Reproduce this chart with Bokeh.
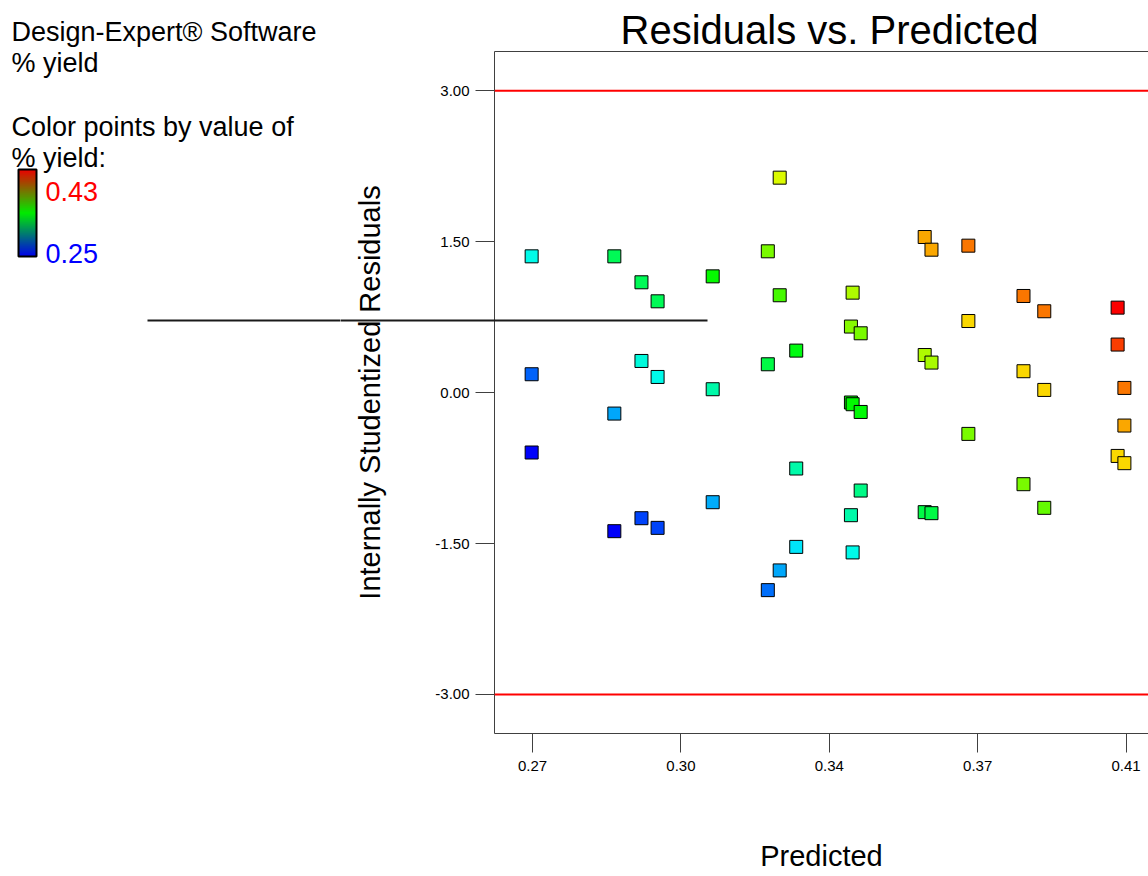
import numpy as np
from bokeh.plotting import figure
from bokeh.layouts import row
from bokeh.models import (ColumnDataSource, LinearColorMapper, ColorBar, FixedTicker,
                          Span, LinearAxis, Range1d)
from bokeh.core.properties import value
from bokeh.embed import file_html
from bokeh.resources import INLINE

# ---- data ---------------------------------------------------------------
# predicted % yield of each run (three replicates per run)
predicted = [
    0.2698, 0.2698, 0.2698,
    0.2893, 0.2893, 0.2893,
    0.2957, 0.2957, 0.2957,
    0.2995, 0.2995, 0.2995,
    0.3125, 0.3125, 0.3125,
    0.3255, 0.3255, 0.3255,
    0.3283, 0.3283, 0.3283,
    0.3322, 0.3322, 0.3322,
    0.3451, 0.3451, 0.3451,
    0.3455, 0.3455, 0.3455,
    0.3474, 0.3474, 0.3474,
    0.3625, 0.3625, 0.3625,
    0.3641, 0.3641, 0.3641,
    0.3728, 0.3728, 0.3728,
    0.3858, 0.3858, 0.3858,
    0.3907, 0.3907, 0.3907,
    0.4080, 0.4080, 0.4080,
    0.4096, 0.4096, 0.4096,
]
# internally studentized residuals
residuals = [
    1.355, 0.183, -0.595,
    1.355, -0.208, -1.377,
    1.097, 0.315, -1.248,
    0.908, 0.156, -1.344,
    1.156, 0.034, -1.089,
    1.405, 0.282, -1.963,
    2.137, 0.968, -1.767,
    0.418, -0.754, -1.533,
    0.657, -0.098, -1.218,
    0.994, -0.115, -1.588,
    0.590, -0.192, -0.973,
    1.547, 0.374, -1.188,
    1.421, 0.299, -1.198,
    1.461, 0.712, -0.410,
    0.961, 0.213, -0.910,
    0.809, 0.027, -1.145,
    0.845, 0.478, -0.629,
    0.047, -0.327, -0.701,
]
# observed % yield, used to colour the points
yield_obs = [
    0.297, 0.276, 0.251,
    0.317, 0.286, 0.250,
    0.317, 0.298, 0.269,
    0.317, 0.297, 0.269,
    0.342, 0.304, 0.287,
    0.369, 0.321, 0.278,
    0.382, 0.359, 0.286,
    0.335, 0.304, 0.293,
    0.371, 0.340, 0.304,
    0.377, 0.340, 0.297,
    0.369, 0.338, 0.309,
    0.394, 0.377, 0.321,
    0.394, 0.376, 0.321,
    0.401, 0.388, 0.369,
    0.401, 0.388, 0.369,
    0.401, 0.388, 0.366,
    0.430, 0.412, 0.388,
    0.401, 0.394, 0.388,
]
yield_low, yield_high = 0.25, 0.43
yield_labels = ["0.43", "0.25"]
x_ticks = [0.27, 0.305, 0.34, 0.375, 0.41]
x_tick_labels = ["0.27", "0.30", "0.34", "0.37", "0.41"]
y_ticks = [-3.0, -1.5, 0.0, 1.5, 3.0]
y_tick_labels = ["-3.00", "-1.50", "0.00", "1.50", "3.00"]
limit_lines = [-3.0, 3.0]
info_lines = ["Design-Expert\u00ae Software", "% yield",
              "Color points by value of", "% yield:"]

# ---- geometry (canvas pixels) --------------------------------------------
W, H = 1148, 876
LW = 340                                       # width of the information panel
FL, FR, FT, FB = 494, 1148, 51, 733            # plot frame edges on the page
x_lo, x_hi = 0.261038, 0.415283
y_lo, y_hi = -3.388, 3.391
FONT = "Liberation Sans"


# ---- palettes -----------------------------------------------------------
def ramp(n, normalise, top):
    cols = []
    for t in np.linspace(0, 1, n):
        r = max(0.0, 2 * t - 1)
        g = 1 - abs(2 * t - 1)
        b = max(0.0, 1 - 2 * t)
        m = max(r, g, b) if normalise else 1.0
        cols.append("#%02x%02x%02x" % tuple(int(round(top * c / m)) for c in (r, g, b)))
    return cols


point_palette = ramp(256, True, 250)
bar_palette = ramp(256, False, 235)

# ---- information panel ------------------------------------------------------
info = figure(width=LW, height=H, x_range=Range1d(0, LW), y_range=Range1d(H, 0),
              output_backend="svg", toolbar_location=None,
              x_axis_location=None, y_axis_location=None, min_border=0)
info.frame_align = False
info.title.visible = False
info.outline_line_color = None
info.grid.visible = False

info.text(x=[11, 11, 11, 11], y=[31, 62, 126, 157], text=info_lines,
          text_font=value(FONT), text_font_size="27px", text_color="black",
          text_baseline="alphabetic", text_align="left")
info.text(x=[45, 45], y=[191, 253], text=yield_labels,
          text_font=value(FONT), text_font_size="27px", text_color=["#ff0000", "#0000ff"],
          text_baseline="alphabetic", text_align="left")

bar_mapper = LinearColorMapper(palette=bar_palette, low=yield_low, high=yield_high)
info.add_layout(ColorBar(color_mapper=bar_mapper, orientation="vertical", width=18, height=87,
                         location=(18, H - 256), padding=0, margin=0,
                         ticker=FixedTicker(ticks=[]), major_label_text_font_size="0px",
                         major_tick_line_color=None, bar_line_color="black", bar_line_width=2,
                         background_fill_color=None, border_line_color=None))

# stray rule, left part
info.segment(x0=[147], y0=[320], x1=[LW], y1=[320], line_color="#1a1a1a", line_width=2)

# ---- residual plot ------------------------------------------------------------
p = figure(width=W - LW, height=H, x_range=Range1d(x_lo, x_hi), y_range=Range1d(y_lo, y_hi),
           output_backend="svg", toolbar_location=None,
           x_axis_location=None, y_axis_location=None,
           min_border_left=FL - LW, min_border_right=0, min_border_top=FT,
           min_border_bottom=H - FB)
p.frame_align = False
p.outline_line_color = None
p.grid.visible = False

p.title.text = "Residuals vs. Predicted"
p.title.text_font = FONT
p.title.text_font_size = "40px"
p.title.text_font_style = "normal"
p.title.text_color = "black"
p.title.align = "left"
p.title.offset = 126
p.title.standoff = 0


def style_axis(ax):
    ax.axis_line_color = "#404040"
    ax.axis_line_width = 1
    ax.major_tick_line_color = "#404040"
    ax.major_tick_out = 19
    ax.major_tick_in = 0
    ax.minor_tick_line_color = None
    ax.minor_tick_out = 0
    ax.minor_tick_in = 0
    ax.major_label_text_font = FONT
    ax.major_label_text_font_size = "15px"
    ax.major_label_text_color = "black"
    ax.axis_label_text_font = FONT
    ax.axis_label_text_font_style = "normal"
    ax.axis_label_text_color = "black"


xaxis = LinearAxis(ticker=FixedTicker(ticks=x_ticks),
                   major_label_overrides=dict(zip(x_ticks, x_tick_labels)),
                   axis_label="Predicted")
style_axis(xaxis)
xaxis.major_label_standoff = 8
xaxis.axis_label_standoff = 66
xaxis.axis_label_text_font_size = "29px"
p.add_layout(xaxis, "below")

yaxis = LinearAxis(ticker=FixedTicker(ticks=y_ticks),
                   major_label_overrides=dict(zip(y_ticks, y_tick_labels)),
                   axis_label="Internally Studentized Residuals")
style_axis(yaxis)
yaxis.major_label_standoff = 6
yaxis.axis_label_standoff = 46
yaxis.axis_label_text_font_size = "29px"
p.add_layout(yaxis, "left")

top_axis = LinearAxis(ticker=FixedTicker(ticks=[]), major_label_text_font_size="0px",
                      major_tick_out=0, major_tick_in=0, major_label_standoff=0,
                      axis_line_color="#404040")
p.add_layout(top_axis, "above")

# +/- 3 limit lines
for lv in limit_lines:
    p.add_layout(Span(location=lv, dimension="width", line_color="#ff0000", line_width=2))

# residual points coloured by observed yield
mapper = LinearColorMapper(palette=point_palette, low=yield_low, high=yield_high)
src = ColumnDataSource(dict(x=predicted, y=residuals, c=yield_obs))
p.scatter("x", "y", source=src, marker="square", size=13,
          fill_color={"field": "c", "transform": mapper},
          line_color="black", line_width=1)

# stray rule, right part (drawn as a flat bar so it can cross the axis area)
rule_mapper = LinearColorMapper(palette=["#1a1a1a"], low=0, high=1)
p.add_layout(ColorBar(color_mapper=rule_mapper, orientation="horizontal",
                      width=707 - LW, height=2, location=(LW - FL, FB - 321),
                      padding=0, margin=0, ticker=FixedTicker(ticks=[]),
                      major_label_text_font_size="0px", major_tick_line_color=None,
                      bar_line_color=None, background_fill_color=None,
                      border_line_color=None))

layout = row(info, p, spacing=0)
open("out.html", "w").write(file_html(layout, INLINE))
